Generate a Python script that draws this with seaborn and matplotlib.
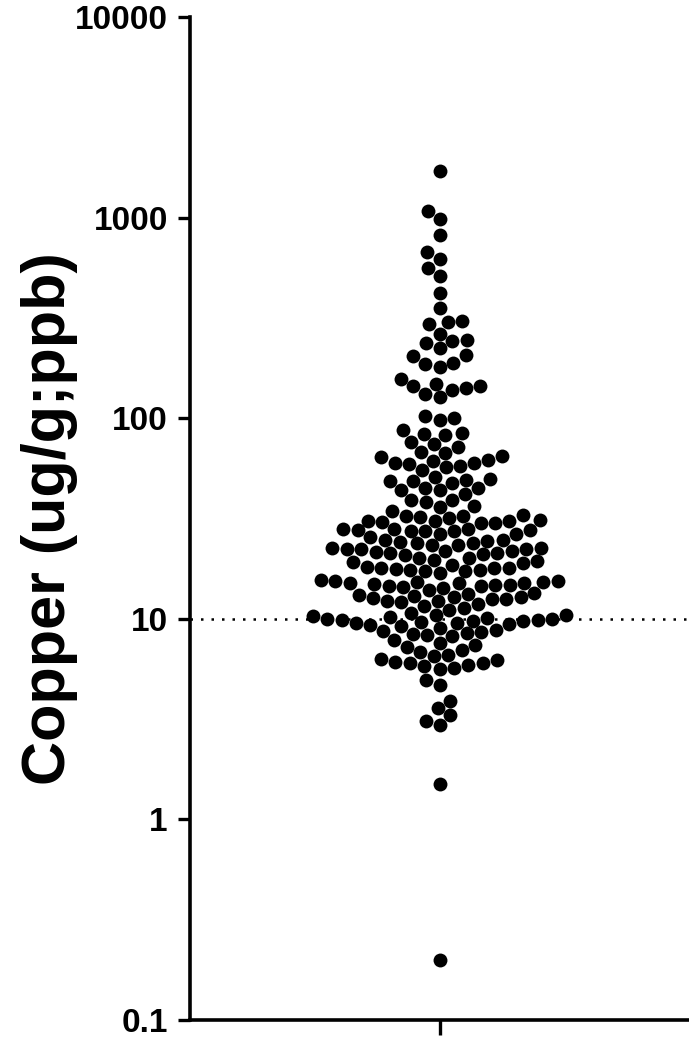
import matplotlib
matplotlib.use("Agg")
import matplotlib.pyplot as plt
import seaborn as sns
import pandas as pd
from matplotlib.ticker import FixedLocator, NullLocator

# ---- data (ug/g) ----
category = ["Copper"]
upper_tail = [1700, 1080, 980, 820, 670, 620, 560, 510, 420, 355, 305, 300,
              295, 263, 245, 242, 237, 224, 206, 204, 189, 187, 180, 157,
              148, 145, 144, 141, 139, 132, 127, 102, 100, 98]
upper_mid = [87, 84, 83, 82, 76, 74, 72, 68, 67, 65, 64, 62, 61.5, 60, 60,
             59, 57.5, 57, 55, 51, 49.5, 49, 48.8, 48.5, 47.5, 45, 44.8, 44,
             43.8, 41.7, 39.2, 39, 38, 36.3, 36, 34.5]
core_upper = [30.9, 30.8, 30.2, 32.0, 32.7, 32.6, 30.5, 30.1, 31.0, 31.9, 32.8, 30.7,
              26.6, 25.5, 27.9, 27.5, 27.4, 26.5, 28.0, 27.8, 27.9, 27.6, 27.3,
              23.2, 24.0, 22.6, 23.4, 24.5, 24.8, 24.7, 23.9, 24.1,
              19.7, 20.2, 21.9, 21.4, 21.3, 21.8, 22.3, 21.0, 22.2, 22.6, 22.4,
              20.1, 21.5, 20.7,
              17.0, 18.0, 17.4, 17.3, 17.9, 17.6, 18.1, 18.6, 17.5, 19.1, 19.0,
              19.4, 17.7, 17.9]
core_lower = [14.3, 14.6, 14.9, 15.3, 15.0, 15.4, 15.1, 15.5, 14.8, 14.7, 15.2,
              15.6, 14.4, 15.0, 14.5, 13.9,
              13.5, 13.2, 12.9, 12.6, 12.2, 13.0, 12.7, 12.3, 11.6, 11.35, 11.1,
              12.8, 12.5, 13.3, 11.8, 12.1,
              10.7, 10.4, 10.1, 9.9, 10.0, 9.7, 9.55, 9.3, 9.8, 10.2, 10.5, 9.6,
              9.4, 9.0, 10.3, 9.9, 8.8, 9.2, 10.0, 9.5,
              8.7, 8.5, 8.2, 8.4, 8.6, 8.3]
lower_tail = [7.8, 7.4, 7.2, 6.8, 6.5, 6.2, 6.0, 7.6, 6.6, 6.1, 7.0, 6.3, 6.0,
              5.9, 5.7, 5.6, 5.8, 4.95, 4.7, 3.9, 3.6, 3.3, 3.1, 2.95, 1.5, 0.2]
reference_level = 10
y_ticks = [0.1, 1, 10, 100, 1000, 10000]
y_tick_labels = ["0.1", "1", "10", "100", "1000", "10000"]
y_label = "Copper (ug/g;ppb)"

values = upper_tail + upper_mid + core_upper + core_lower + lower_tail
df = pd.DataFrame({"group": category * len(values), "copper": values})

sns.set_style("ticks")
plt.rcParams["font.family"] = ["Liberation Sans", "DejaVu Sans"]
plt.rcParams["font.weight"] = "bold"
for key in ["text.color", "axes.labelcolor", "xtick.color", "ytick.color",
            "axes.edgecolor"]:
    plt.rcParams[key] = "black"

W, H = 689, 1037
fig = plt.figure(figsize=(W / 100, H / 100), dpi=100)
ax = fig.add_axes([190 / W, 17 / H, 499 / W, 1003 / H])
ax.set_yscale("log")
ax.set_ylim(0.1, 10000)

sns.swarmplot(data=df, x="group", y="copper", ax=ax, color="black",
              size=10, linewidth=0, warn_thresh=1.0)

ax.set_xlim(-0.5, 0.5)
ax.axhline(reference_level, color="black", lw=1.8, ls=(0, (1, 3.2)), zorder=0)

ax.yaxis.set_major_locator(FixedLocator(y_ticks))
ax.yaxis.set_minor_locator(NullLocator())
ax.set_yticklabels(y_tick_labels, fontsize=24, fontweight="bold", color="black")
ax.set_xticks([0])
ax.set_xticklabels([""])
ax.set_xlabel("")
ax.set_ylabel(y_label, fontsize=44, fontweight="bold", color="black")
ax.yaxis.set_label_coords(-0.224, 0.5)

for side in ["top", "right"]:
    ax.spines[side].set_visible(False)
for side in ["left", "bottom"]:
    ax.spines[side].set_linewidth(2.6)
    ax.spines[side].set_color("black")
ax.tick_params(axis="both", which="major", left=True, bottom=True,
               length=9, width=2.4, color="black", direction="out", pad=7)
ax.tick_params(axis="x", length=11)

fig.savefig("out.png", dpi=100)
